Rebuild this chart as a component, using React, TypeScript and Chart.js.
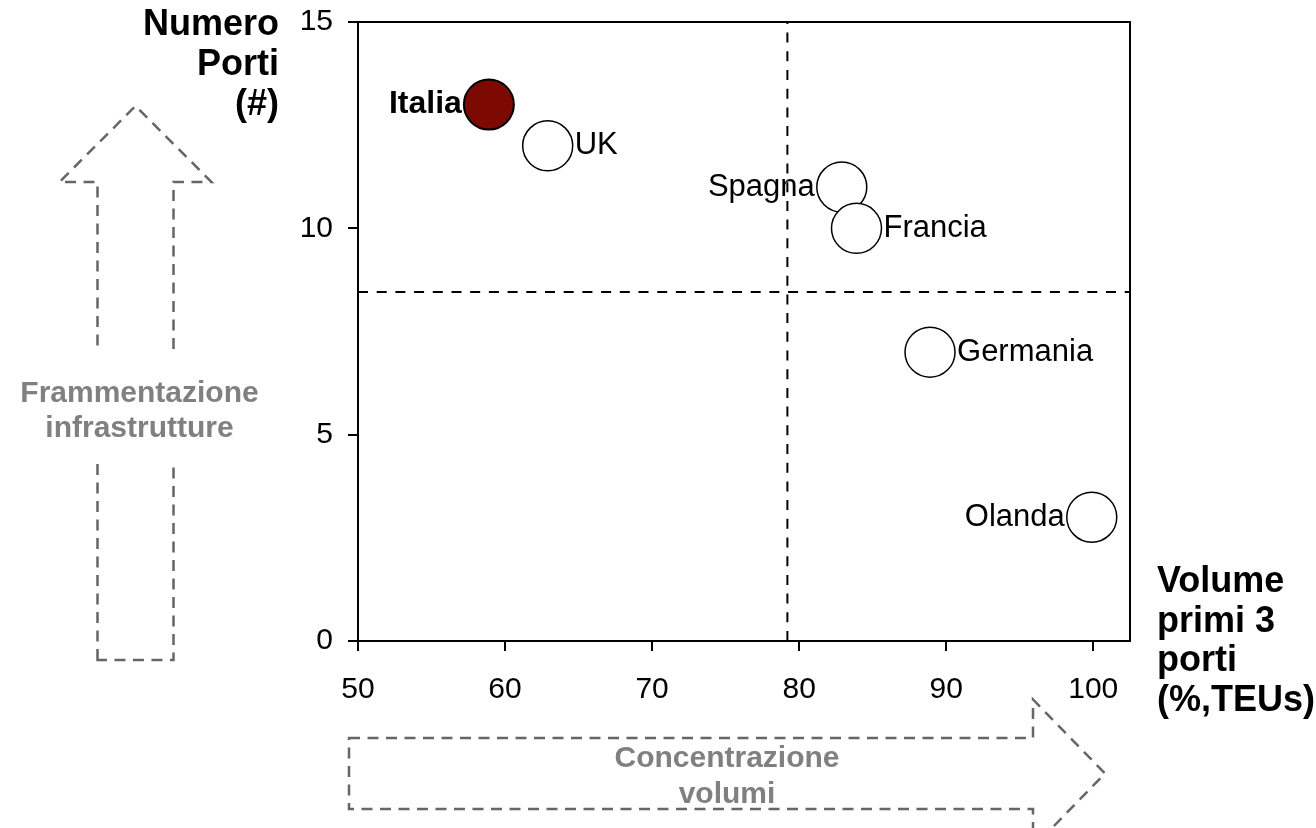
import React, { useEffect, useRef } from 'react';
import { Chart, registerables } from 'chart.js';

Chart.register(...registerables);

const FONT = '"Liberation Sans", Arial, Helvetica, sans-serif';

// ---- data ----
const countries = ['Italia', 'UK', 'Spagna', 'Francia', 'Germania', 'Olanda'];
const volumePrimi3 = [58.9, 62.9, 82.9, 83.9, 88.9, 99.9];
const numeroPorti = [13, 12, 11, 10, 7, 3];
const labelSide = ['left', 'right', 'left', 'right', 'right', 'left'];
const highlighted = [true, false, false, false, false, false];

const xMin = 50;
const xMax = 102.5;
const xStep = 10;
const yMin = 0;
const yMax = 15;
const yStep = 5;

const refVolume = 79.2;
const refPorti = 8.46;

const yTitle = ['Numero', 'Porti', '(#)'];
const xTitle = ['Volume', 'primi 3', 'porti', '(%,TEUs)'];
const upArrowText = ['Frammentazione', 'infrastrutture'];
const rightArrowText = ['Concentrazione', 'volumi'];

const HIGHLIGHT = '#7D0A02';
const ARROW_GRAY = '#666666';
const TEXT_GRAY = '#808080';

const decorPlugin = {
  id: 'decor',
  afterDatasetsDraw(chart: any) {
    const ctx = chart.ctx;
    const meta = chart.getDatasetMeta(2);
    ctx.save();
    ctx.textBaseline = 'middle';
    ctx.fillStyle = '#000';
    meta.data.forEach((el: any, i: number) => {
      const r = 25;
      ctx.font = (highlighted[i] ? 'bold 32px ' : '31px ') + FONT;
      if (labelSide[i] === 'left') {
        ctx.textAlign = 'right';
        ctx.fillText(countries[i], el.x - r - 2, el.y);
      } else {
        ctx.textAlign = 'left';
        ctx.fillText(countries[i], el.x + r + 2, el.y);
      }
    });
    ctx.restore();
  },
  afterDraw(chart: any) {
    const ctx = chart.ctx;
    const a = chart.chartArea;
    ctx.save();
    // top & right frame
    ctx.strokeStyle = '#000';
    ctx.lineWidth = 2;
    ctx.setLineDash([]);
    ctx.beginPath();
    ctx.moveTo(a.left, a.top);
    ctx.lineTo(a.right, a.top);
    ctx.lineTo(a.right, a.bottom);
    ctx.stroke();

    // axis titles
    ctx.fillStyle = '#000';
    ctx.font = 'bold 36px ' + FONT;
    ctx.textBaseline = 'alphabetic';
    ctx.textAlign = 'right';
    yTitle.forEach((t, i) => ctx.fillText(t, a.left - 79, a.top + 13 + i * 40));
    ctx.textAlign = 'left';
    xTitle.forEach((t, i) => ctx.fillText(t, a.right + 27, a.bottom - 49 + i * 39.7));

    // up arrow (left)
    ctx.strokeStyle = ARROW_GRAY;
    ctx.lineWidth = 2.5;
    ctx.setLineDash([11, 7.5]);
    const cx = a.left - 222.5;
    const sh = 38;
    const headBase = a.top + 160;
    const tip = a.top + 84;
    const hw = 76;
    const bottom = a.bottom + 19;
    ctx.beginPath();
    ctx.moveTo(cx - sh, bottom);
    ctx.lineTo(cx - sh, headBase);
    ctx.lineTo(cx - hw, headBase);
    ctx.lineTo(cx, tip);
    ctx.lineTo(cx + hw, headBase);
    ctx.lineTo(cx + sh, headBase);
    ctx.lineTo(cx + sh, bottom);
    ctx.closePath();
    ctx.stroke();
    ctx.fillStyle = '#fff';
    ctx.fillRect(cx - sh - 5, 353, 2 * sh + 10, 109);
    ctx.fillStyle = TEXT_GRAY;
    ctx.font = 'bold 30px ' + FONT;
    ctx.textAlign = 'center';
    upArrowText.forEach((t, i) => ctx.fillText(t, cx + 4, 402 + i * 35));

    // right arrow (bottom)
    const left = a.left - 9;
    const top = a.bottom + 97;
    const bot = a.bottom + 168;
    const hb = a.left + 675;
    const mid = (top + bot) / 2;
    const hh = 74;
    const tipX = hb + 72;
    ctx.beginPath();
    ctx.moveTo(left, top);
    ctx.lineTo(hb, top);
    ctx.lineTo(hb, mid - hh);
    ctx.lineTo(tipX, mid);
    ctx.lineTo(hb, mid + hh);
    ctx.lineTo(hb, bot);
    ctx.lineTo(left, bot);
    ctx.closePath();
    ctx.stroke();
    ctx.fillStyle = TEXT_GRAY;
    rightArrowText.forEach((t, i) => ctx.fillText(t, 727, top + 29 + i * 36));
    ctx.restore();
  },
};

export default function App() {
  const ref = useRef<HTMLCanvasElement>(null);
  useEffect(() => {
    const points = countries.map((_, i) => ({ x: volumePrimi3[i], y: numeroPorti[i] }));
    const chart = new Chart(ref.current as HTMLCanvasElement, {
      type: 'scatter',
      data: {
        datasets: [
          {
            type: 'line',
            data: [
              { x: refVolume, y: yMin },
              { x: refVolume, y: yMax },
            ],
            borderColor: '#000',
            borderWidth: 2,
            borderDash: [10, 8.7],
            pointRadius: 0,
            fill: false,
          } as any,
          {
            type: 'line',
            data: [
              { x: xMin, y: refPorti },
              { x: xMax, y: refPorti },
            ],
            borderColor: '#000',
            borderWidth: 2,
            borderDash: [10, 8.7],
            pointRadius: 0,
            fill: false,
          } as any,
          {
            type: 'scatter',
            data: points,
            pointRadius: 25,
            pointHoverRadius: 25,
            backgroundColor: highlighted.map((h) => (h ? HIGHLIGHT : '#ffffff')),
            borderColor: '#000',
            borderWidth: highlighted.map((h) => (h ? 2 : 1.5)),
            clip: false,
          } as any,
        ],
      },
      options: {
        animation: false,
        responsive: true,
        maintainAspectRatio: false,
        events: [],
        layout: { autoPadding: false, padding: { top: 22, right: 186, left: 0, bottom: 0 } },
        plugins: { legend: { display: false }, tooltip: { enabled: false }, title: { display: false } },
        scales: {
          x: {
            type: 'linear',
            position: 'bottom',
            min: xMin,
            max: xMax,
            afterFit: (s: any) => {
              s.height = 828 - 641;
              s.paddingLeft = 0;
              s.paddingRight = 0;
            },
            ticks: {
              stepSize: xStep,
              includeBounds: false,
              autoSkip: false,
              maxRotation: 0,
              color: '#000',
              padding: 21,
              font: { family: FONT, size: 30 },
            },
            grid: { drawOnChartArea: false, drawTicks: true, tickLength: 10, color: '#000', lineWidth: 2 },
            border: { display: true, color: '#000', width: 2 },
          },
          y: {
            type: 'linear',
            min: yMin,
            max: yMax,
            afterFit: (s: any) => {
              s.width = 358;
              s.paddingTop = 0;
              s.paddingBottom = 0;
            },
            ticks: {
              stepSize: yStep,
              color: '#000',
              padding: 15,
              font: { family: FONT, size: 30 },
            },
            grid: { drawOnChartArea: false, drawTicks: true, tickLength: 10, color: '#000', lineWidth: 2 },
            border: { display: true, color: '#000', width: 2 },
          },
        },
      } as any,
      plugins: [decorPlugin],
    });
    return () => chart.destroy();
  }, []);
  return (
    <div style={{ position: 'fixed', left: 0, top: 0, width: 1316, height: 828, background: '#fff' }}>
      <canvas ref={ref} />
    </div>
  );
}
